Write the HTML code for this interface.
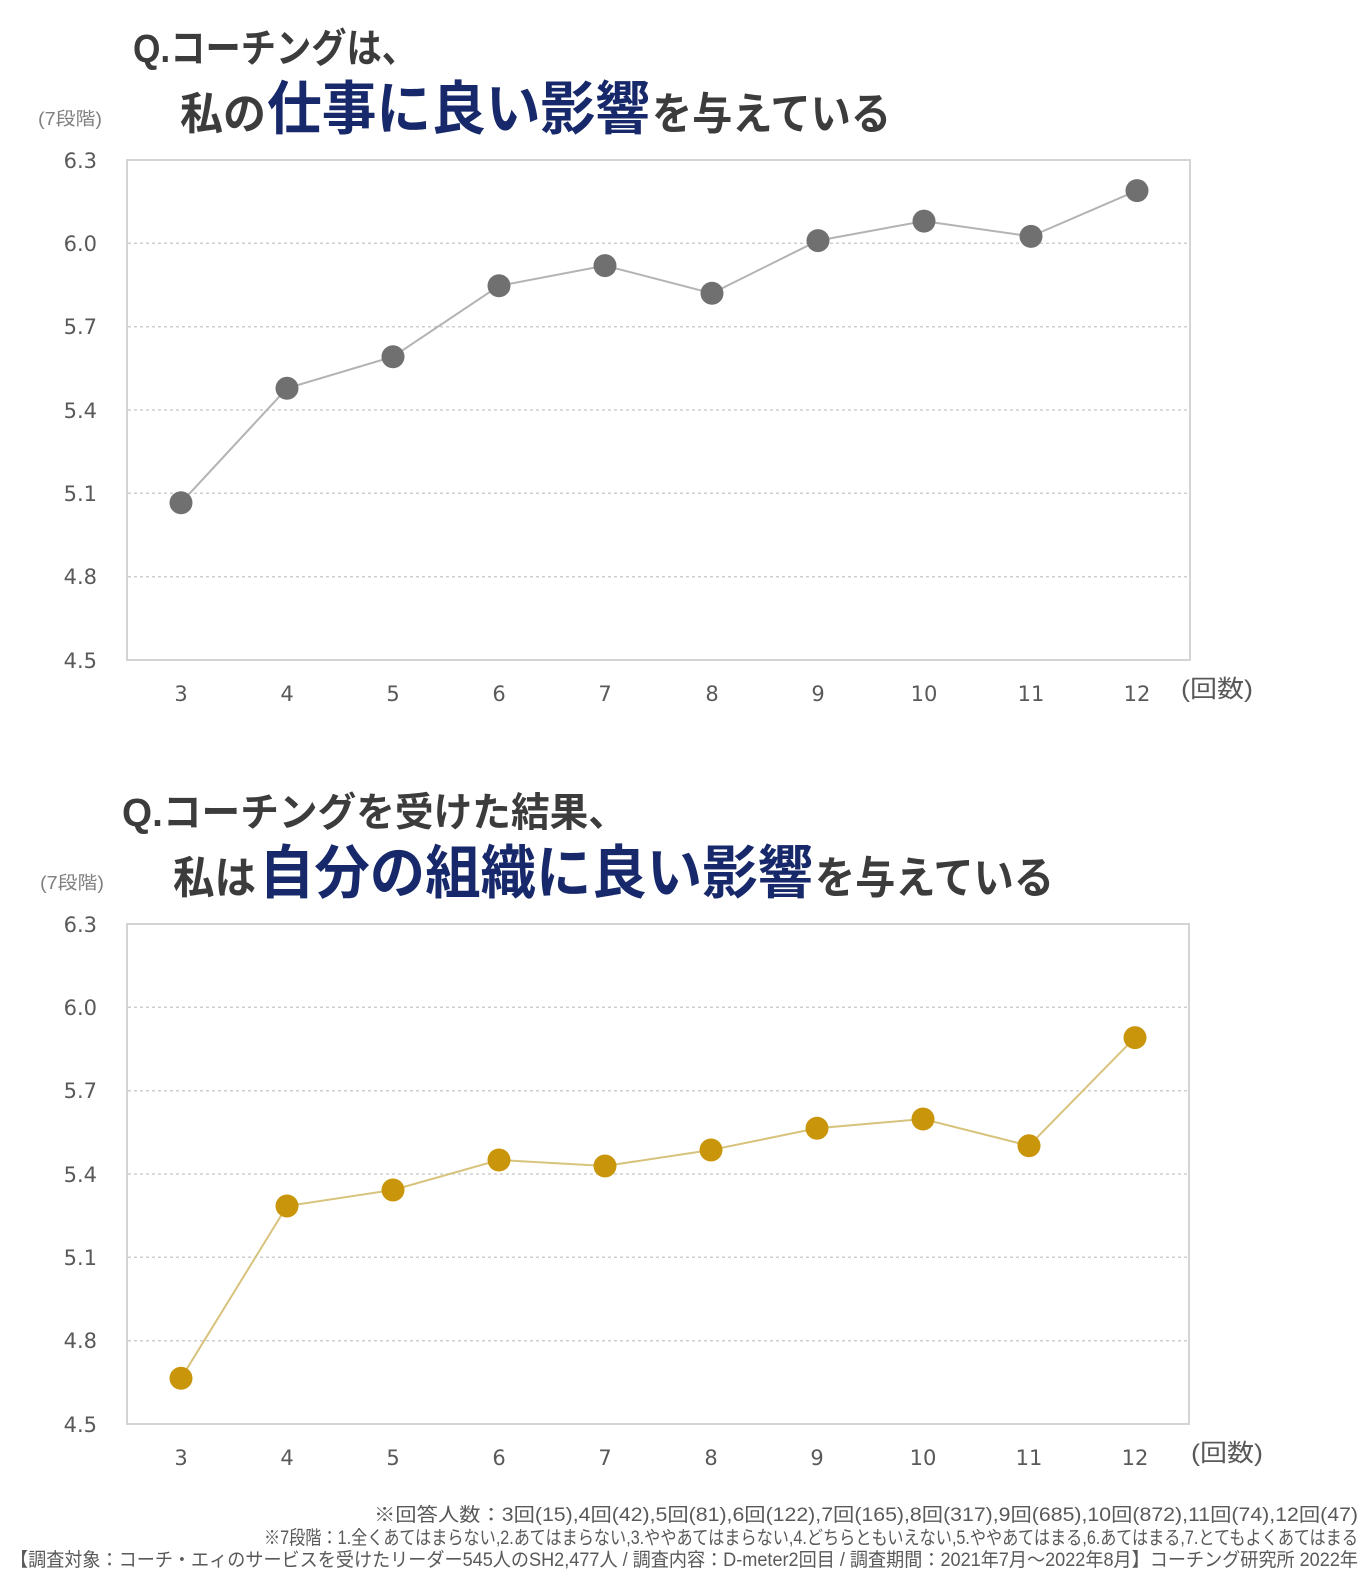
<!DOCTYPE html>
<html><head><meta charset="utf-8"><style>
html,body{margin:0;padding:0;background:#fff;}
svg{display:block;}
.tl{font-family:"Liberation Sans","Noto Sans CJK JP",sans-serif;font-weight:bold;}
.ax{font-family:"DejaVu Sans","Liberation Sans",sans-serif;font-size:21px;fill:#595959;}
.jp{font-family:"Liberation Sans","Noto Sans CJK JP",sans-serif;}
</style></head><body>
<svg width="1368" height="1592" viewBox="0 0 1368 1592" xmlns="http://www.w3.org/2000/svg">
<rect width="1368" height="1592" fill="#fff"/>

<!-- ===== Chart 1 title ===== -->
<text class="tl" x="133" y="62" font-size="40" fill="#3c3c3c" textLength="284" lengthAdjust="spacingAndGlyphs">Q.コーチングは、</text>
<text class="tl" x="180" y="129" font-size="44" fill="#3c3c3c" textLength="86" lengthAdjust="spacingAndGlyphs">私の</text>
<text class="tl" x="267" y="129" font-size="58" fill="#17296a" textLength="383" lengthAdjust="spacingAndGlyphs">仕事に良い影響</text>
<text class="tl" x="652" y="129" font-size="44" fill="#3c3c3c" textLength="239" lengthAdjust="spacingAndGlyphs">を与えている</text>
<text class="jp" x="38" y="125" font-size="18" fill="#808080" textLength="64" lengthAdjust="spacingAndGlyphs">(7段階)</text>

<!-- ===== Chart 1 plot ===== -->
<g stroke="#cfcfcf" stroke-width="1.5" stroke-dasharray="3,3">
<line x1="128" y1="243.3" x2="1190" y2="243.3"/>
<line x1="128" y1="326.7" x2="1190" y2="326.7"/>
<line x1="128" y1="410" x2="1190" y2="410"/>
<line x1="128" y1="493.3" x2="1190" y2="493.3"/>
<line x1="128" y1="576.7" x2="1190" y2="576.7"/>
</g>
<rect x="127" y="160" width="1063" height="500" fill="none" stroke="#d4d4d4" stroke-width="2"/>
<g class="ax" text-anchor="end">
<text x="97" y="168">6.3</text>
<text x="97" y="251">6.0</text>
<text x="97" y="334">5.7</text>
<text x="97" y="418">5.4</text>
<text x="97" y="501">5.1</text>
<text x="97" y="584">4.8</text>
<text x="97" y="668">4.5</text>
</g>
<g class="ax" text-anchor="middle">
<text x="181" y="701">3</text>
<text x="287" y="701">4</text>
<text x="393" y="701">5</text>
<text x="499" y="701">6</text>
<text x="605" y="701">7</text>
<text x="712" y="701">8</text>
<text x="818" y="701">9</text>
<text x="924" y="701">10</text>
<text x="1031" y="701">11</text>
<text x="1137" y="701">12</text>
</g>
<text class="jp" x="1181" y="697" font-size="24" fill="#595959" textLength="72" lengthAdjust="spacingAndGlyphs">(回数)</text>
<polyline fill="none" stroke="#b3b3b3" stroke-width="2" points="181,502.8 287,388.3 393,356.7 499,285.8 605,265.6 712,293.3 818,240.6 924,221.1 1031,236.4 1137,190.6"/>
<g fill="#707070">
<circle cx="181" cy="502.8" r="11.5"/>
<circle cx="287" cy="388.3" r="11.5"/>
<circle cx="393" cy="356.7" r="11.5"/>
<circle cx="499" cy="285.8" r="11.5"/>
<circle cx="605" cy="265.6" r="11.5"/>
<circle cx="712" cy="293.3" r="11.5"/>
<circle cx="818" cy="240.6" r="11.5"/>
<circle cx="924" cy="221.1" r="11.5"/>
<circle cx="1031" cy="236.4" r="11.5"/>
<circle cx="1137" cy="190.6" r="11.5"/>
</g>

<!-- ===== Chart 2 title ===== -->
<text class="tl" x="122" y="826" font-size="40" fill="#3c3c3c" textLength="505" lengthAdjust="spacingAndGlyphs">Q.コーチングを受けた結果、</text>
<text class="tl" x="173" y="893" font-size="44" fill="#3c3c3c" textLength="83" lengthAdjust="spacingAndGlyphs">私は</text>
<text class="tl" x="259" y="893" font-size="58" fill="#17296a" textLength="554" lengthAdjust="spacingAndGlyphs">自分の組織に良い影響</text>
<text class="tl" x="815" y="893" font-size="44" fill="#3c3c3c" textLength="239" lengthAdjust="spacingAndGlyphs">を与えている</text>
<text class="jp" x="40" y="889" font-size="18" fill="#808080" textLength="64" lengthAdjust="spacingAndGlyphs">(7段階)</text>

<!-- ===== Chart 2 plot ===== -->
<g stroke="#cfcfcf" stroke-width="1.5" stroke-dasharray="3,3">
<line x1="128" y1="1007.3" x2="1189" y2="1007.3"/>
<line x1="128" y1="1090.7" x2="1189" y2="1090.7"/>
<line x1="128" y1="1174" x2="1189" y2="1174"/>
<line x1="128" y1="1257.3" x2="1189" y2="1257.3"/>
<line x1="128" y1="1340.7" x2="1189" y2="1340.7"/>
</g>
<rect x="127" y="924" width="1062" height="500" fill="none" stroke="#d4d4d4" stroke-width="2"/>
<g class="ax" text-anchor="end">
<text x="97" y="932">6.3</text>
<text x="97" y="1015">6.0</text>
<text x="97" y="1098">5.7</text>
<text x="97" y="1182">5.4</text>
<text x="97" y="1265">5.1</text>
<text x="97" y="1348">4.8</text>
<text x="97" y="1432">4.5</text>
</g>
<g class="ax" text-anchor="middle">
<text x="181" y="1465">3</text>
<text x="287" y="1465">4</text>
<text x="393" y="1465">5</text>
<text x="499" y="1465">6</text>
<text x="605" y="1465">7</text>
<text x="711" y="1465">8</text>
<text x="817" y="1465">9</text>
<text x="923" y="1465">10</text>
<text x="1029" y="1465">11</text>
<text x="1135" y="1465">12</text>
</g>
<text class="jp" x="1191" y="1461" font-size="24" fill="#595959" textLength="72" lengthAdjust="spacingAndGlyphs">(回数)</text>
<polyline fill="none" stroke="#d8c37c" stroke-width="2" points="181,1378.3 287,1206 393,1190 499,1160 605,1166 711,1150 817,1128.3 923,1119 1029,1145.7 1135,1037.6"/>
<g fill="#c9950b">
<circle cx="181" cy="1378.3" r="11.5"/>
<circle cx="287" cy="1206" r="11.5"/>
<circle cx="393" cy="1190" r="11.5"/>
<circle cx="499" cy="1160" r="11.5"/>
<circle cx="605" cy="1166" r="11.5"/>
<circle cx="711" cy="1150" r="11.5"/>
<circle cx="817" cy="1128.3" r="11.5"/>
<circle cx="923" cy="1119" r="11.5"/>
<circle cx="1029" cy="1145.7" r="11.5"/>
<circle cx="1135" cy="1037.6" r="11.5"/>
</g>

<!-- ===== Footnotes ===== -->
<g class="jp" font-size="19" fill="#595959">
<text x="374" y="1521" textLength="984" lengthAdjust="spacingAndGlyphs">※回答人数：3回(15),4回(42),5回(81),6回(122),7回(165),8回(317),9回(685),10回(872),11回(74),12回(47)</text>
<text x="264" y="1544" textLength="1094" lengthAdjust="spacingAndGlyphs">※7段階：1.全くあてはまらない,2.あてはまらない,3.ややあてはまらない,4.どちらともいえない,5.ややあてはまる,6.あてはまる,7.とてもよくあてはまる</text>
<text x="10" y="1566" textLength="1348" lengthAdjust="spacingAndGlyphs">【調査対象：コーチ・エィのサービスを受けたリーダー545人のSH2,477人 / 調査内容：D-meter2回目 / 調査期間：2021年7月～2022年8月】コーチング研究所 2022年</text>
</g>
</svg>
</body></html>
